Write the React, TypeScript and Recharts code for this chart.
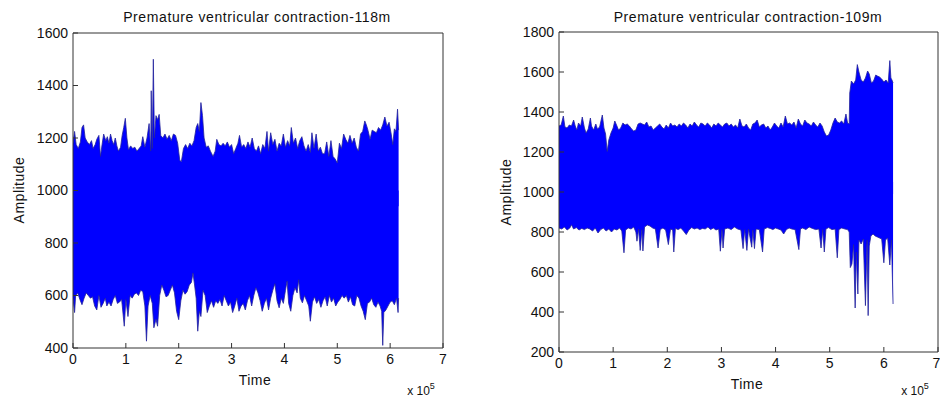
import { ComposedChart, Area, XAxis, YAxis } from "recharts";

// time in units of 10^5 samples, amplitude in ADC units
const TIME_TICKS = [0, 1, 2, 3, 4, 5, 6, 7];
const LEFT_Y_TICKS = [400, 600, 800, 1000, 1200, 1400, 1600];
const RIGHT_Y_TICKS = [200, 400, 600, 800, 1000, 1200, 1400, 1600, 1800];

const LEFT_TITLE = "Premature ventricular contraction-118m";
const RIGHT_TITLE = "Premature ventricular contraction-109m";

// upper / lower envelope of record 118
const LEFT_UPPER: [number, number][] = [
  [0, 1180], [0.03, 1225], [0.06, 1175], [0.1, 1160], [0.14, 1185], [0.17, 1240], [0.2, 1250], [0.23, 1200],
  [0.27, 1185], [0.31, 1175], [0.35, 1190], [0.38, 1160], [0.42, 1175], [0.45, 1195], [0.49, 1210], [0.52, 1130],
  [0.55, 1175], [0.58, 1215], [0.62, 1190], [0.65, 1205], [0.68, 1180], [0.71, 1215], [0.74, 1190], [0.77, 1175],
  [0.8, 1200], [0.83, 1170], [0.86, 1150], [0.9, 1165], [0.93, 1210], [0.96, 1240], [0.99, 1275], [1.02, 1200],
  [1.05, 1155], [1.09, 1170], [1.13, 1160], [1.17, 1165], [1.21, 1150], [1.25, 1160], [1.29, 1170], [1.32, 1205],
  [1.36, 1165], [1.4, 1200], [1.44, 1255], [1.47, 1150], [1.48, 1380], [1.5, 1160], [1.52, 1500], [1.54, 1200],
  [1.57, 1285], [1.6, 1270], [1.63, 1290], [1.66, 1210], [1.7, 1200], [1.74, 1215], [1.78, 1195], [1.82, 1210],
  [1.86, 1190], [1.9, 1215], [1.94, 1210], [1.98, 1180], [2.02, 1115], [2.05, 1110], [2.09, 1160], [2.13, 1175],
  [2.17, 1160], [2.21, 1180], [2.25, 1170], [2.29, 1190], [2.33, 1240], [2.36, 1255], [2.39, 1225], [2.42, 1335],
  [2.45, 1285], [2.48, 1200], [2.52, 1165], [2.56, 1170], [2.6, 1150], [2.65, 1130], [2.69, 1150], [2.72, 1195],
  [2.76, 1175], [2.8, 1170], [2.84, 1180], [2.88, 1170], [2.92, 1185], [2.96, 1165], [3.0, 1175], [3.04, 1140],
  [3.08, 1160], [3.12, 1180], [3.15, 1210], [3.19, 1165], [3.23, 1175], [3.27, 1160], [3.31, 1185], [3.35, 1165],
  [3.39, 1200], [3.43, 1160], [3.47, 1150], [3.51, 1170], [3.55, 1140], [3.59, 1175], [3.63, 1160], [3.67, 1225],
  [3.7, 1150], [3.74, 1220], [3.78, 1175], [3.82, 1195], [3.86, 1150], [3.9, 1180], [3.94, 1170], [3.98, 1215],
  [4.02, 1165], [4.06, 1190], [4.1, 1170], [4.13, 1240], [4.17, 1180], [4.21, 1200], [4.25, 1160], [4.29, 1190],
  [4.33, 1205], [4.37, 1170], [4.41, 1150], [4.45, 1175], [4.49, 1145], [4.52, 1220], [4.56, 1160], [4.6, 1215],
  [4.64, 1150], [4.68, 1165], [4.72, 1140], [4.76, 1140], [4.8, 1185], [4.84, 1130], [4.88, 1190], [4.92, 1130],
  [4.96, 1120], [5.0, 1105], [5.04, 1180], [5.08, 1160], [5.12, 1215], [5.16, 1195], [5.2, 1180], [5.24, 1210],
  [5.28, 1180], [5.32, 1200], [5.36, 1165], [5.4, 1150], [5.44, 1215], [5.48, 1225], [5.52, 1265], [5.55, 1250],
  [5.58, 1230], [5.62, 1195], [5.66, 1230], [5.7, 1225], [5.74, 1220], [5.78, 1240], [5.82, 1230], [5.86, 1250],
  [5.9, 1280], [5.94, 1245], [5.98, 1260], [6.02, 1215], [6.05, 1175], [6.08, 1235], [6.11, 1225], [6.14, 1310],
  [6.16, 1230],
];

const LEFT_LOWER: [number, number][] = [
  [0, 590], [0.03, 535], [0.05, 600], [0.09, 610], [0.13, 585], [0.17, 565], [0.21, 590], [0.25, 610],
  [0.29, 600], [0.33, 590], [0.37, 595], [0.41, 560], [0.45, 545], [0.49, 600], [0.53, 555], [0.57, 570],
  [0.61, 590], [0.64, 560], [0.68, 575], [0.72, 560], [0.76, 585], [0.8, 600], [0.84, 570], [0.88, 575],
  [0.92, 585], [0.97, 483], [1.0, 585], [1.04, 520], [1.08, 600], [1.12, 590], [1.16, 605], [1.2, 610],
  [1.24, 600], [1.28, 620], [1.32, 615], [1.36, 560], [1.39, 426], [1.42, 560], [1.46, 600], [1.5, 570],
  [1.53, 477], [1.57, 510], [1.6, 483], [1.64, 600], [1.68, 640], [1.72, 620], [1.76, 595], [1.8, 600],
  [1.84, 620], [1.88, 640], [1.92, 610], [1.96, 540], [2.0, 508], [2.04, 580], [2.08, 620], [2.12, 605],
  [2.16, 615], [2.2, 640], [2.24, 650], [2.27, 686], [2.3, 640], [2.33, 590], [2.36, 464], [2.39, 540],
  [2.42, 520], [2.46, 620], [2.5, 600], [2.54, 535], [2.58, 560], [2.62, 580], [2.66, 555], [2.7, 580],
  [2.74, 570], [2.78, 585], [2.82, 560], [2.86, 600], [2.9, 580], [2.94, 560], [2.98, 575], [3.02, 535],
  [3.06, 560], [3.1, 590], [3.14, 540], [3.18, 560], [3.22, 570], [3.26, 545], [3.3, 580], [3.34, 600],
  [3.38, 560], [3.42, 600], [3.46, 630], [3.5, 610], [3.54, 580], [3.58, 540], [3.62, 570], [3.66, 590],
  [3.7, 545], [3.74, 590], [3.78, 620], [3.82, 645], [3.86, 580], [3.9, 553], [3.94, 590], [3.98, 570],
  [4.02, 620], [4.05, 655], [4.08, 570], [4.12, 540], [4.16, 600], [4.2, 630], [4.24, 610], [4.27, 660],
  [4.3, 590], [4.34, 572], [4.38, 600], [4.42, 580], [4.46, 560], [4.49, 502], [4.53, 575], [4.57, 595],
  [4.61, 570], [4.65, 585], [4.69, 555], [4.73, 580], [4.77, 595], [4.81, 560], [4.85, 600], [4.89, 575],
  [4.93, 590], [4.97, 560], [5.01, 575], [5.05, 585], [5.09, 600], [5.13, 590], [5.17, 600], [5.21, 575],
  [5.25, 595], [5.29, 565], [5.33, 560], [5.37, 600], [5.41, 590], [5.45, 560], [5.49, 540], [5.53, 508],
  [5.57, 570], [5.61, 575], [5.65, 590], [5.69, 565], [5.73, 555], [5.77, 575], [5.81, 560], [5.84, 540],
  [5.86, 410], [5.88, 535], [5.92, 545], [5.96, 560], [6.0, 575], [6.04, 580], [6.08, 565], [6.12, 590],
  [6.15, 535], [6.16, 590],
];

// upper / lower envelope of record 109
const RIGHT_UPPER: [number, number][] = [
  [0, 1330], [0.04, 1335], [0.08, 1380], [0.11, 1325], [0.15, 1320], [0.19, 1335], [0.23, 1330], [0.27, 1360],
  [0.3, 1330], [0.33, 1310], [0.36, 1345], [0.4, 1330], [0.43, 1375], [0.47, 1320], [0.5, 1295], [0.54, 1315],
  [0.58, 1370], [0.6, 1330], [0.64, 1310], [0.68, 1340], [0.71, 1315], [0.75, 1325], [0.8, 1385], [0.83, 1320],
  [0.86, 1290], [0.89, 1203], [0.92, 1260], [0.96, 1295], [1.0, 1320], [1.03, 1355], [1.07, 1330], [1.1, 1310],
  [1.14, 1320], [1.18, 1345], [1.22, 1335], [1.26, 1340], [1.3, 1330], [1.34, 1315], [1.38, 1305], [1.42, 1310],
  [1.46, 1340], [1.5, 1345], [1.54, 1340], [1.58, 1335], [1.62, 1350], [1.66, 1325], [1.7, 1330], [1.74, 1310],
  [1.78, 1320], [1.82, 1330], [1.86, 1340], [1.9, 1325], [1.94, 1315], [1.98, 1335], [2.02, 1320], [2.06, 1345],
  [2.1, 1330], [2.14, 1335], [2.18, 1325], [2.22, 1340], [2.26, 1330], [2.3, 1345], [2.34, 1335], [2.38, 1320],
  [2.42, 1340], [2.46, 1330], [2.5, 1350], [2.54, 1335], [2.58, 1325], [2.62, 1345], [2.66, 1340], [2.7, 1330],
  [2.74, 1345], [2.78, 1335], [2.82, 1320], [2.86, 1340], [2.9, 1330], [2.94, 1345], [2.98, 1335], [3.02, 1325],
  [3.06, 1340], [3.1, 1345], [3.14, 1330], [3.18, 1340], [3.22, 1325], [3.26, 1335], [3.3, 1320], [3.34, 1365],
  [3.38, 1330], [3.42, 1325], [3.46, 1340], [3.5, 1320], [3.54, 1310], [3.58, 1340], [3.62, 1345], [3.66, 1360],
  [3.7, 1325], [3.74, 1335], [3.78, 1340], [3.82, 1320], [3.86, 1330], [3.9, 1310], [3.94, 1325], [3.98, 1345],
  [4.02, 1330], [4.06, 1320], [4.1, 1345], [4.14, 1325], [4.18, 1380], [4.22, 1340], [4.26, 1345], [4.3, 1335],
  [4.34, 1350], [4.38, 1320], [4.42, 1365], [4.46, 1340], [4.5, 1330], [4.54, 1360], [4.58, 1345], [4.62, 1340],
  [4.66, 1330], [4.7, 1350], [4.74, 1335], [4.78, 1325], [4.82, 1345], [4.86, 1330], [4.9, 1300], [4.94, 1280],
  [4.98, 1285], [5.02, 1310], [5.06, 1345], [5.1, 1370], [5.14, 1350], [5.18, 1345], [5.22, 1355], [5.26, 1340],
  [5.3, 1390], [5.33, 1345], [5.36, 1340], [5.37, 1495], [5.4, 1555], [5.44, 1540], [5.48, 1560], [5.51, 1637],
  [5.54, 1600], [5.58, 1560], [5.62, 1550], [5.66, 1570], [5.7, 1605], [5.73, 1590], [5.77, 1545], [5.81, 1555],
  [5.85, 1585], [5.88, 1580], [5.92, 1575], [5.96, 1565], [6.0, 1550], [6.04, 1560], [6.08, 1545], [6.11, 1657],
  [6.13, 1570], [6.15, 1560], [6.17, 1545],
];

const RIGHT_LOWER: [number, number][] = [
  [0, 820], [0.05, 815], [0.1, 825], [0.15, 810], [0.2, 820], [0.23, 836], [0.27, 815], [0.32, 822],
  [0.37, 810], [0.42, 818], [0.47, 812], [0.52, 820], [0.57, 815], [0.62, 805], [0.67, 820], [0.72, 795],
  [0.77, 812], [0.82, 820], [0.87, 805], [0.92, 815], [0.97, 800], [1.02, 815], [1.07, 810], [1.12, 820],
  [1.16, 805], [1.2, 696], [1.23, 810], [1.28, 820], [1.33, 815], [1.38, 825], [1.42, 800], [1.44, 754],
  [1.47, 815], [1.5, 708], [1.53, 812], [1.55, 705], [1.58, 825], [1.63, 835], [1.68, 830], [1.73, 820],
  [1.78, 815], [1.83, 720], [1.87, 812], [1.92, 820], [1.97, 810], [2.02, 737], [2.06, 815], [2.1, 810],
  [2.12, 700], [2.15, 818], [2.2, 812], [2.25, 820], [2.3, 805], [2.35, 787], [2.4, 810], [2.45, 822],
  [2.5, 815], [2.55, 820], [2.6, 812], [2.65, 818], [2.7, 815], [2.75, 825], [2.8, 812], [2.85, 820],
  [2.9, 810], [2.95, 815], [2.98, 704], [3.01, 812], [3.03, 720], [3.06, 815], [3.12, 820], [3.18, 812],
  [3.24, 825], [3.3, 815], [3.36, 810], [3.4, 717], [3.43, 812], [3.47, 708], [3.5, 815], [3.56, 724],
  [3.58, 810], [3.61, 717], [3.64, 815], [3.7, 812], [3.76, 700], [3.79, 815], [3.85, 822], [3.9, 818],
  [3.95, 812], [4.0, 820], [4.05, 815], [4.1, 810], [4.15, 790], [4.2, 812], [4.25, 820], [4.3, 815],
  [4.36, 812], [4.43, 712], [4.46, 815], [4.5, 820], [4.56, 812], [4.62, 825], [4.68, 818], [4.74, 812],
  [4.8, 815], [4.84, 720], [4.87, 812], [4.9, 700], [4.93, 815], [4.98, 822], [5.04, 812], [5.1, 815],
  [5.14, 671], [5.17, 812], [5.22, 820], [5.28, 815], [5.33, 812], [5.36, 800], [5.38, 622], [5.41, 640],
  [5.44, 737], [5.47, 420], [5.49, 700], [5.52, 490], [5.54, 760], [5.58, 740], [5.62, 765], [5.66, 432],
  [5.69, 760], [5.71, 382], [5.73, 730], [5.76, 780], [5.8, 790], [5.84, 780], [5.88, 775], [5.92, 770],
  [5.96, 765], [6.0, 646], [6.03, 760], [6.07, 770], [6.11, 635], [6.14, 760], [6.17, 440],
];

const FONT = "'Liberation Sans', Arial, sans-serif";
const BLUE = "#0000ff";
const EDGE = "#23239a";
const AXIS = "#333333";

const toRows = (pts: [number, number][]) => pts.map(([t, v]) => ({ t, v }));

function Txt({ x, y, children, size = 14, rotate = 0, spacing = 0 }: any) {
  return (
    <div
      style={{
        position: "absolute",
        left: x,
        top: y,
        transform: `translate(-50%, -50%) rotate(${rotate}deg)`,
        fontFamily: FONT,
        fontSize: size,
        letterSpacing: spacing,
        color: "#111",
        whiteSpace: "nowrap",
        lineHeight: 1,
      }}
    >
      {children}
    </div>
  );
}

function EcgPanel({ upper, lower, yTicks, mid, margin }: any) {
  const tickStyle = { fontFamily: FONT, fontSize: 14, fill: "#111" };
  const axisLine = { stroke: AXIS, strokeWidth: 1 };
  const yDomain = [yTicks[0], yTicks[yTicks.length - 1]];
  return (
    <ComposedChart width={470} height={398} margin={margin}>
      <XAxis
        dataKey="t"
        type="number"
        domain={[0, 7]}
        ticks={TIME_TICKS}
        height={30}
        tickSize={-5}
        tickMargin={11}
        tick={tickStyle}
        axisLine={axisLine}
        tickLine={axisLine}
        allowDataOverflow
      />
      <XAxis
        xAxisId="top"
        orientation="top"
        dataKey="t"
        type="number"
        domain={[0, 7]}
        ticks={TIME_TICKS}
        height={1}
        tickSize={-5}
        tick={false}
        axisLine={axisLine}
        tickLine={axisLine}
        allowDataOverflow
      />
      <YAxis
        type="number"
        domain={yDomain}
        ticks={yTicks}
        width={30}
        tickSize={-5}
        tickMargin={10}
        tick={tickStyle}
        axisLine={axisLine}
        tickLine={axisLine}
        allowDataOverflow
      />
      <YAxis
        yAxisId="right"
        orientation="right"
        type="number"
        domain={yDomain}
        ticks={yTicks}
        width={1}
        tickSize={-5}
        tick={false}
        axisLine={axisLine}
        tickLine={axisLine}
        allowDataOverflow
      />
      <Area
        data={toRows(upper)}
        dataKey="v"
        type="linear"
        baseValue={mid - 60}
        fill={BLUE}
        fillOpacity={1}
        stroke={EDGE}
        strokeWidth={0.8}
        isAnimationActive={false}
        dot={false}
        activeDot={false}
      />
      <Area
        data={toRows(lower)}
        dataKey="v"
        xAxisId="top"
        yAxisId="right"
        type="linear"
        baseValue={mid}
        fill={BLUE}
        fillOpacity={1}
        stroke={EDGE}
        strokeWidth={0.8}
        isAnimationActive={false}
        dot={false}
        activeDot={false}
      />
    </ComposedChart>
  );
}

export default function App() {
  return (
    <div
      style={{
        position: "absolute",
        left: 0,
        top: 0,
        width: 940,
        height: 398,
        background: "#fff",
        overflow: "hidden",
      }}
    >
      <div style={{ position: "absolute", left: 0, top: 0 }}>
        <EcgPanel
          upper={LEFT_UPPER}
          lower={LEFT_LOWER}
          yTicks={LEFT_Y_TICKS}
          mid={1000}
          margin={{ top: 32, right: 26, left: 43, bottom: 20 }}
        />
      </div>
      <div style={{ position: "absolute", left: 470, top: 0 }}>
        <EcgPanel
          upper={RIGHT_UPPER}
          lower={RIGHT_LOWER}
          yTicks={RIGHT_Y_TICKS}
          mid={1050}
          margin={{ top: 31, right: 1, left: 59, bottom: 16 }}
        />
      </div>

      <Txt x={257} y={17} spacing={0.6}>{LEFT_TITLE}</Txt>
      <Txt x={748} y={17} spacing={0.6}>{RIGHT_TITLE}</Txt>
      <Txt x={19} y={190} rotate={-90} spacing={0.5}>Amplitude</Txt>
      <Txt x={506} y={192} rotate={-90} spacing={0.5}>Amplitude</Txt>
      <Txt x={255} y={380} spacing={0.5}>Time</Txt>
      <Txt x={747} y={384} spacing={0.5}>Time</Txt>
      <Txt x={421} y={389} size={12}>
        x 10<sup style={{ fontSize: 9, verticalAlign: "6px" }}>5</sup>
      </Txt>
      <Txt x={915} y={389} size={12}>
        x 10<sup style={{ fontSize: 9, verticalAlign: "6px" }}>5</sup>
      </Txt>
    </div>
  );
}
